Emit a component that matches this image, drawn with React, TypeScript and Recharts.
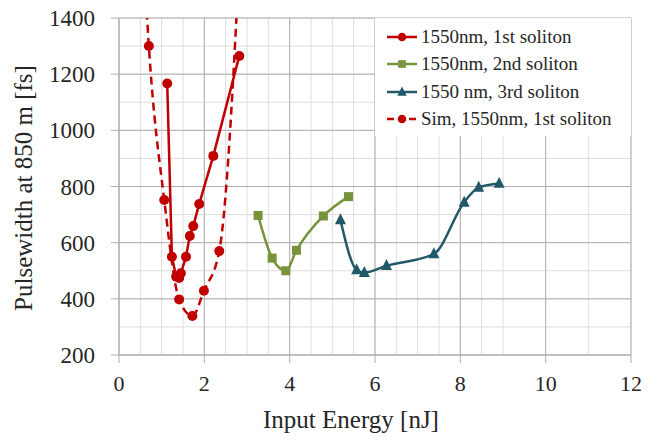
import React from "react";
import { ComposedChart, Line, XAxis, YAxis, CartesianGrid, Legend, Label } from "recharts";

// 1550nm, 1st soliton (measured)
const sol1Energy = [1.13, 1.24, 1.34, 1.41, 1.45, 1.57, 1.66, 1.74, 1.88, 2.21, 2.82];
const sol1Width = [1167, 550, 479, 474, 491, 550, 624, 659, 738, 909, 1265];

// 1550nm, 2nd soliton
const sol2Energy = [3.26, 3.59, 3.91, 4.16, 4.79, 5.38];
const sol2Width = [697, 545, 500, 573, 695, 764];

// 1550 nm, 3rd soliton
const sol3Energy = [5.19, 5.57, 5.75, 6.27, 7.38, 8.09, 8.43, 8.91];
const sol3Width = [681, 503, 493, 518, 560, 744, 797, 811];

// simulation, 1st soliton (first and last points run off the top)
const simEnergy = [0.55, 0.7, 1.06, 1.41, 1.72, 1.99, 2.35, 2.9];
const simWidth = [1700, 1300, 752, 398, 339, 429, 570, 1850];

const xTicks = [0, 2, 4, 6, 8, 10, 12];
const yTicks = [200, 400, 600, 800, 1000, 1200, 1400];
const xMinorTicks = [0, 0.5, 1, 1.5, 2, 2.5, 3, 3.5, 4, 4.5, 5, 5.5, 6, 6.5, 7, 7.5, 8, 8.5, 9, 9.5, 10, 10.5, 11, 11.5, 12];
const yMinorTicks = [200, 300, 400, 500, 600, 700, 800, 900, 1000, 1100, 1200, 1300, 1400];

const toPoints = (xs: number[], ys: number[]) => xs.map((x, i) => ({ x, y: ys[i] }));

const RED = "#c00000";
const GREEN = "#77933c";
const TEAL = "#215968";
const FONT = "Liberation Serif";
const TEXT = "#262626";

const series = [
  { name: "1550nm, 1st soliton", color: RED, shape: "circle", dashed: false },
  { name: "1550nm, 2nd soliton", color: GREEN, shape: "square", dashed: false },
  { name: "1550 nm, 3rd soliton", color: TEAL, shape: "triangle", dashed: false },
  { name: "Sim, 1550nm, 1st soliton", color: RED, shape: "circle", dashed: true },
];

const Marker = ({ cx, cy, shape, color, size = 1 }: any) => {
  if (cx == null || cy == null) return null;
  if (shape === "square") {
    const s = 9 * size;
    return <rect x={cx - s / 2} y={cy - s / 2} width={s} height={s} fill={color} />;
  }
  if (shape === "triangle") {
    const s = 11 * size;
    return (
      <polygon
        points={`${cx},${cy - s * 0.6} ${cx - s / 2},${cy + s * 0.4} ${cx + s / 2},${cy + s * 0.4}`}
        fill={color}
      />
    );
  }
  return <circle cx={cx} cy={cy} r={5 * size} fill={color} />;
};

const LegendBox = () => (
  <div
    style={{
      background: "#fff",
      height: 118,
      paddingTop: 5,
      boxSizing: "border-box",
      fontFamily: FONT,
      fontSize: 19,
      color: TEXT,
    }}
  >
    {series.map((s) => (
      <div key={s.name} style={{ display: "flex", alignItems: "center", height: 27.5 }}>
        <svg width={45} height={16} style={{ flexShrink: 0 }}>
          <line
            x1={12}
            x2={42}
            y1={8}
            y2={8}
            stroke={s.color}
            strokeWidth={2.5}
            strokeDasharray={s.dashed ? "7 4" : undefined}
          />
          <Marker cx={27} cy={8} shape={s.shape} color={s.color} size={0.85} />
        </svg>
        <span style={{ marginLeft: 1, whiteSpace: "nowrap" }}>{s.name}</span>
      </div>
    ))}
  </div>
);

export default function App() {
  return (
    <div style={{ position: "absolute", left: 0, top: 0, fontFamily: FONT }}>
      <ComposedChart width={667} height={443} margin={{ top: 18, right: 36, left: 0, bottom: 0 }}>
        <CartesianGrid
          verticalValues={xMinorTicks}
          horizontalValues={yMinorTicks}
          stroke="#dcdcdc"
          strokeWidth={1}
        />
        <CartesianGrid stroke="#b0b0b0" strokeWidth={1} />
        <XAxis
          type="number"
          dataKey="x"
          domain={[0, 12]}
          ticks={xTicks}
          height={88}
          allowDataOverflow
          axisLine={{ stroke: "#b0b0b0" }}
          tickLine={{ stroke: "#b0b0b0" }}
          tickSize={8}
          tickMargin={12}
          tick={{ fill: TEXT, fontSize: 22, fontFamily: FONT }}
        >
          <Label
            content={() => (
              <text x={351} y={428} textAnchor="middle" fill={TEXT} fontSize={25} fontFamily={FONT}>
                Input Energy [nJ]
              </text>
            )}
          />
        </XAxis>
        <YAxis
          type="number"
          domain={[200, 1400]}
          ticks={yTicks}
          width={119}
          allowDataOverflow
          axisLine={{ stroke: "#b0b0b0" }}
          tickLine={{ stroke: "#b0b0b0" }}
          tickSize={8}
          tickMargin={16}
          tick={{ fill: TEXT, fontSize: 23, fontFamily: FONT }}
        >
          <Label
            content={() => (
              <text
                x={23}
                y={188}
                transform="rotate(-90 23 188)"
                textAnchor="middle"
                dominantBaseline="central"
                fill={TEXT}
                fontSize={25}
                fontFamily={FONT}
              >
                Pulsewidth at 850 m [fs]
              </text>
            )}
          />
        </YAxis>
        <Line
          data={toPoints(simEnergy, simWidth)}
          dataKey="y"
          type="monotone"
          stroke={RED}
          strokeWidth={2.5}
          strokeDasharray="8 5"
          dot={(p: any) => <Marker key={p.index} cx={p.cx} cy={p.cy} shape="circle" color={RED} />}
          activeDot={false}
          isAnimationActive={false}
        />
        <Line
          data={toPoints(sol1Energy, sol1Width)}
          dataKey="y"
          type="linear"
          stroke={RED}
          strokeWidth={2.5}
          dot={(p: any) => <Marker key={p.index} cx={p.cx} cy={p.cy} shape="circle" color={RED} />}
          activeDot={false}
          isAnimationActive={false}
        />
        <Line
          data={toPoints(sol2Energy, sol2Width)}
          dataKey="y"
          type="monotone"
          stroke={GREEN}
          strokeWidth={2.5}
          dot={(p: any) => <Marker key={p.index} cx={p.cx} cy={p.cy} shape="square" color={GREEN} />}
          activeDot={false}
          isAnimationActive={false}
        />
        <Line
          data={toPoints(sol3Energy, sol3Width)}
          dataKey="y"
          type="monotone"
          stroke={TEAL}
          strokeWidth={2.5}
          dot={(p: any) => <Marker key={p.index} cx={p.cx} cy={p.cy} shape="triangle" color={TEAL} />}
          activeDot={false}
          isAnimationActive={false}
        />
        <Legend
          layout="vertical"
          align="center"
          verticalAlign="middle"
          content={() => <LegendBox />}
          wrapperStyle={{ left: 375, top: 18, width: 256 }}
        />
      </ComposedChart>
    </div>
  );
}
